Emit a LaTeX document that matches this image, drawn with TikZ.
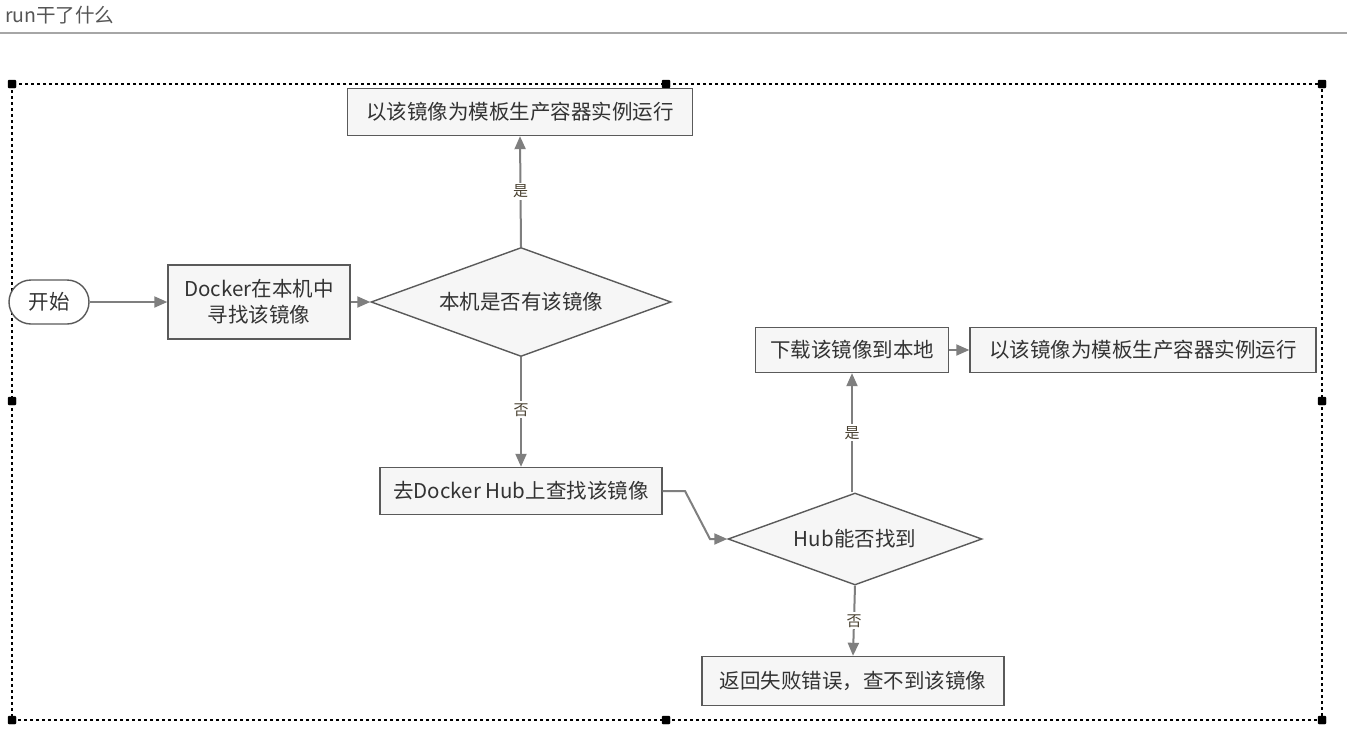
\documentclass[tikz,border=0pt]{standalone}
\usepackage{fontspec}
\setmainfont{Noto Sans CJK SC}
\usetikzlibrary{shapes.geometric,arrows.meta}
\definecolor{boxline}{HTML}{5A5A5A}
\definecolor{boxfill}{HTML}{F6F6F6}
\definecolor{arrowc}{HTML}{7F7F7F}
\definecolor{textc}{HTML}{333333}
\definecolor{labelc}{HTML}{4A4232}
\definecolor{titlec}{HTML}{555555}
\tikzset{
  box/.style={draw=boxline, fill=boxfill, line width=1.4pt, inner sep=0pt, align=center,
    text=textc, font=\fontsize{20.5}{26}\selectfont},
  dia/.style={diamond, draw=boxline, fill=boxfill, line width=1.4pt, inner sep=0pt,
    shape aspect=2.75, text=textc, font=\fontsize{20.5}{26}\selectfont},
  term/.style={draw=boxline, fill=white, line width=1.4pt, rounded corners=22pt, inner sep=0pt,
    text=textc, font=\fontsize{20.5}{26}\selectfont},
  conn/.style={draw=arrowc, line width=2pt, -{Triangle[length=13pt,width=11pt]}},
  lab/.style={fill=white, text=labelc, inner sep=2pt, font=\fontsize{15}{17}\selectfont},
  handle/.style={fill=black, rounded corners=1pt},
}
\begin{document}
\begin{tikzpicture}[x=1pt,y=-1pt]
\useasboundingbox (0,0) rectangle (1347,734);
\fill[white] (0,0) rectangle (1347,734);
% title
\node[anchor=west, text=titlec, font=\fontsize{19.5}{22}\selectfont, inner sep=0pt] (title) at (5,15) {run干了什么};
\draw[color=gray!70, line width=1.2pt] (0,33) -- (1347,33);
% selection frame
\draw[black, line width=1.3pt, dash pattern=on 3pt off 3pt] (12,84) rectangle (1322,720);
\foreach \x/\y in {12/84,666/84,1322/84,12/401,1322/401,12/720,666/720,1322/720}
  \filldraw[handle] (\x-4,\y-4) rectangle (\x+4,\y+4);
% nodes
\node[term, minimum width=80pt, minimum height=44pt] (start) at (49,302) {开始};
\node[box, minimum width=182pt, minimum height=74pt] (find) at (259,302) {Docker在本机中\\寻找该镜像};
\node[dia, minimum width=300pt, minimum height=109pt] (d1) at (521,302) {本机是否有该镜像};
\node[box, minimum width=345pt, minimum height=47pt] (run1) at (520,112) {以该镜像为模板生产容器实例运行};
\node[box, minimum width=282pt, minimum height=47pt] (hub) at (521,491) {去Docker Hub上查找该镜像};
\node[dia, minimum width=254pt, minimum height=92pt] (d2) at (855,539) {Hub能否找到};
\node[box, minimum width=193pt, minimum height=45pt] (dl) at (852,350) {下载该镜像到本地};
\node[box, minimum width=346pt, minimum height=45pt] (run2) at (1143,350) {以该镜像为模板生产容器实例运行};
\node[box, minimum width=302pt, minimum height=49pt] (fail) at (853,681) {返回失败错误，查不到该镜像};
% connectors
\draw[conn] (start.east) -- (find.west);
\draw[conn] (find.east) -- (d1.west);
\draw[conn] (d1.north) -- node[lab] {是} (run1.south);
\draw[conn] (d1.south) -- node[lab, pos=0.48] {否} (hub.north);
\coordinate (h1) at (685,491);
\coordinate (h2) at (710,539);
\draw[conn] (hub.east) -- (h1) -- (h2) -- (d2.west);
\draw[conn] (d2.north -| dl.south) -- node[lab, pos=0.5] {是} (dl.south);
\draw[conn] (dl.east) -- (run2.west);
\draw[conn] (d2.south) -- node[lab, pos=0.5] {否} (fail.north);
\end{tikzpicture}
\end{document}
